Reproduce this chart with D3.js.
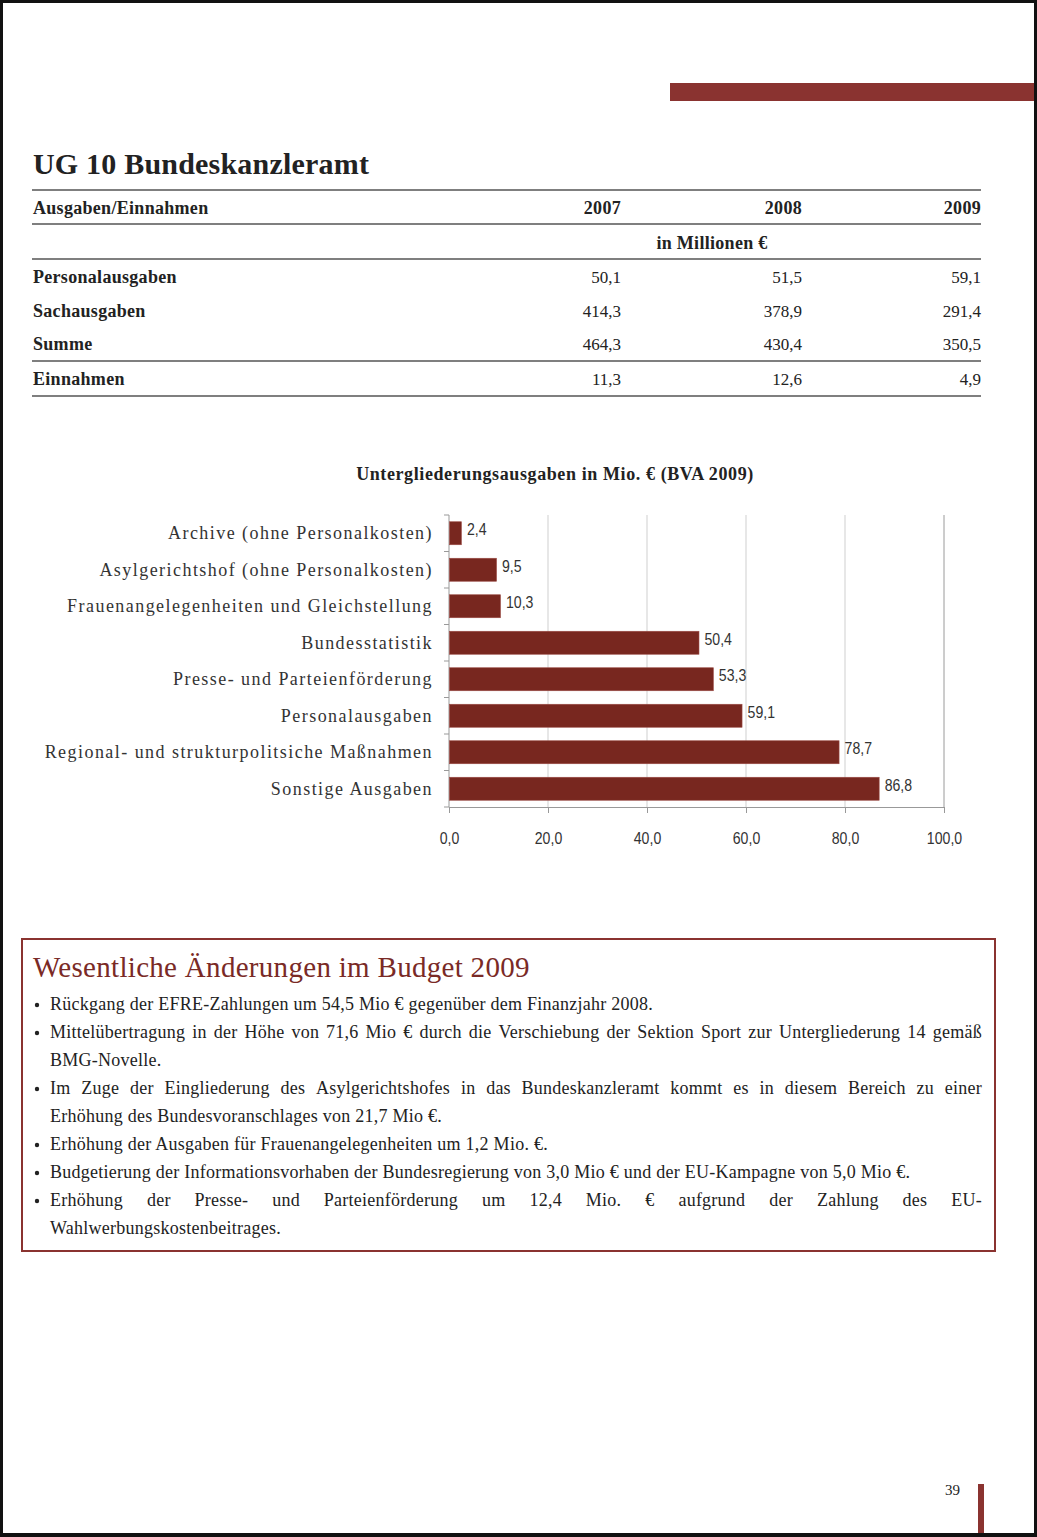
<!DOCTYPE html>
<html><head><meta charset="utf-8">
<script src="https://cdn.jsdelivr.net/npm/d3@7"></script>
<style>
body{margin:0;background:#000;}
svg{display:block;}
</style></head>
<body>
<svg id="page" width="1037" height="1537"></svg>
<script>
// ---------- data ----------
const pageTitle = "UG 10 Bundeskanzleramt";
const tableHeader = "Ausgaben/Einnahmen";
const years = ["2007", "2008", "2009"];
const unitLabel = "in Millionen €";
const tableRowLabels = ["Personalausgaben", "Sachausgaben", "Summe", "Einnahmen"];
const values2007 = ["50,1", "414,3", "464,3", "11,3"];
const values2008 = ["51,5", "378,9", "430,4", "12,6"];
const values2009 = ["59,1", "291,4", "350,5", "4,9"];

const chartTitle = "Untergliederungsausgaben in Mio. € (BVA 2009)";
const categories = [
  "Archive (ohne Personalkosten)",
  "Asylgerichtshof (ohne Personalkosten)",
  "Frauenangelegenheiten und Gleichstellung",
  "Bundesstatistik",
  "Presse- und Parteienförderung",
  "Personalausgaben",
  "Regional- und strukturpolitsiche Maßnahmen",
  "Sonstige Ausgaben"
];
const amounts = [2.4, 9.5, 10.3, 50.4, 53.3, 59.1, 78.7, 86.8];
const xTicks = [0, 20, 40, 60, 80, 100];

const boxTitle = "Wesentliche Änderungen im Budget 2009";
const bulletLines = [
  {bullet: true,  justify: false, text: "Rückgang der EFRE-Zahlungen um 54,5 Mio € gegenüber dem Finanzjahr 2008."},
  {bullet: true,  justify: true,  text: "Mittelübertragung in der Höhe von 71,6 Mio € durch die Verschiebung der Sektion Sport zur Untergliederung 14 gemäß"},
  {bullet: false, justify: false, text: "BMG-Novelle."},
  {bullet: true,  justify: true,  text: "Im Zuge der Eingliederung des Asylgerichtshofes in das Bundeskanzleramt kommt es in diesem Bereich zu einer"},
  {bullet: false, justify: false, text: "Erhöhung des Bundesvoranschlages von 21,7 Mio €."},
  {bullet: true,  justify: false, text: "Erhöhung der Ausgaben für Frauenangelegenheiten um 1,2 Mio. €."},
  {bullet: true,  justify: false, text: "Budgetierung der Informationsvorhaben der Bundesregierung von 3,0 Mio € und der EU-Kampagne von 5,0 Mio €."},
  {bullet: true,  justify: true,  text: "Erhöhung der Presse- und Parteienförderung um 12,4 Mio. € aufgrund der Zahlung des EU-"},
  {bullet: false, justify: false, text: "Wahlwerbungskostenbeitrages."}
];
const pageNumber = "39";

// ---------- styles ----------
const RED = "#8a3330";
const BAR = "#78271f";
const SERIF = "'Liberation Serif', 'DejaVu Serif', serif";
const NARROW = "'Liberation Sans', Arial, sans-serif";
const NARROW_SCALE = 0.83;
const INK = "#222";

const svg = d3.select("#page");

// page (scan frame)
svg.append("rect").attr("x", 0).attr("y", 0).attr("width", 1037).attr("height", 1537).attr("fill", "#111");
svg.append("rect").attr("x", 3).attr("y", 3).attr("width", 1031).attr("height", 1530).attr("fill", "#fff");

// header bar
svg.append("rect").attr("x", 670).attr("y", 83).attr("width", 364).attr("height", 18).attr("fill", RED);

// title
svg.append("text").attr("x", 33).attr("y", 174)
  .style("font-family", SERIF).style("font-weight", "bold").style("font-size", "30px")
  .style("letter-spacing", "0.2px").attr("fill", INK)
  .text(pageTitle);

// ---------- table ----------
const tbl = svg.append("g");
const ruleX0 = 32, ruleX1 = 981;
[190, 224, 259, 361, 396].forEach(y => {
  tbl.append("line").attr("x1", ruleX0).attr("x2", ruleX1).attr("y1", y).attr("y2", y)
    .attr("stroke", "#555").attr("stroke-width", 1.4);
});
const colRight = [621, 802, 981];
const tfont = (s) => s.style("font-family", SERIF).style("font-size", "17px").attr("fill", INK);
const bfont = (s) => s.style("font-family", SERIF).style("font-size", "18px").style("font-weight", "bold")
  .style("letter-spacing", "0.3px").attr("fill", INK);
bfont(tbl.append("text").attr("x", 33).attr("y", 214).text(tableHeader));
years.forEach((yr, i) => {
  bfont(tbl.append("text").attr("x", colRight[i]).attr("y", 214).attr("text-anchor", "end")
    .style("font-size", "16.5px").style("letter-spacing", "0px").text(yr));
});
bfont(tbl.append("text").attr("x", 712).attr("y", 249).attr("text-anchor", "middle").text(unitLabel));
const rowY = [283, 317, 350, 385];
const cols = [values2007, values2008, values2009];
tableRowLabels.forEach((lab, r) => {
  bfont(tbl.append("text").attr("x", 33).attr("y", rowY[r]).text(lab));
  cols.forEach((col, c) => {
    tfont(tbl.append("text").attr("x", colRight[c]).attr("y", rowY[r]).attr("text-anchor", "end").text(col[r]));
  });
});

// ---------- bar chart ----------
svg.append("text").attr("x", 555).attr("y", 480).attr("text-anchor", "middle")
  .style("font-family", SERIF).style("font-weight", "bold").style("font-size", "18px")
  .style("letter-spacing", "0.6px").attr("fill", INK)
  .text(chartTitle);

const x = d3.scaleLinear().domain([0, 100]).range([449, 944]);
const y = d3.scaleBand().domain(categories).range([515, 807]).paddingInner(0.37).paddingOuter(0.185);

const chart = svg.append("g");
// gridlines
chart.append("g").selectAll("line").data(xTicks.filter(t => t > 0)).join("line")
  .attr("x1", d => x(d)).attr("x2", d => x(d)).attr("y1", 515).attr("y2", 807)
  .attr("stroke", d => d === 100 ? "#9a9a9a" : "#cfcfcf").attr("stroke-width", 1);

// bottom axis
const fmt = d => d3.format(".1f")(d).replace(".", ",");
const xAxis = d3.axisBottom(x).tickValues(xTicks).tickSize(6).tickPadding(19).tickFormat(fmt);
const gx = chart.append("g").attr("transform", "translate(0,807)").call(xAxis);
gx.select(".domain").attr("stroke", "#999");
gx.selectAll(".tick line").attr("stroke", "#999");
gx.selectAll(".tick text").style("font-family", NARROW).style("font-size", "17px").attr("fill", "#333")
  .attr("transform", `scale(${NARROW_SCALE},1)`);

// left axis with ticks at band boundaries
chart.append("line").attr("x1", 449).attr("x2", 449).attr("y1", 515).attr("y2", 807).attr("stroke", "#999");
const step = y.step();
const boundaries = d3.range(categories.length + 1).map(i => 515 + i * step);
chart.append("g").selectAll("line").data(boundaries).join("line")
  .attr("x1", 444).attr("x2", 449).attr("y1", d => d).attr("y2", d => d).attr("stroke", "#999");

// bars
chart.append("g").selectAll("rect").data(amounts).join("rect")
  .attr("x", x(0) + 0.5).attr("y", (d, i) => y(categories[i]))
  .attr("width", d => x(d) - x(0)).attr("height", y.bandwidth())
  .attr("fill", BAR).attr("stroke", "#9a4a44").attr("stroke-width", 0.6);

// value labels
chart.append("g").selectAll("g").data(amounts).join("g")
  .attr("transform", (d, i) => `translate(${x(d) + 6},${y(categories[i]) + y.bandwidth() / 2 + 2}) scale(${NARROW_SCALE},1)`)
  .append("text")
  .style("font-family", NARROW).style("font-size", "17px").attr("fill", "#333")
  .text(d => fmt(d));

// category labels
chart.append("g").selectAll("text").data(categories).join("text")
  .attr("x", 433).attr("y", d => y(d) + y.bandwidth() / 2 + 6).attr("text-anchor", "end")
  .style("font-family", SERIF).style("font-size", "18px").style("letter-spacing", "1.45px").attr("fill", "#333")
  .text(d => d);

// ---------- box ----------
svg.append("rect").attr("x", 22).attr("y", 939).attr("width", 973).attr("height", 312)
  .attr("fill", "none").attr("stroke", RED).attr("stroke-width", 2);
svg.append("text").attr("x", 33).attr("y", 977)
  .style("font-family", SERIF).style("font-size", "29px").style("letter-spacing", "0.3px")
  .attr("fill", "#7a2a26").text(boxTitle);

const textX = 50, textRight = 982, lineY0 = 1010, lineH = 28;
const bodyStyle = s => s.style("font-family", SERIF).style("font-size", "18px")
  .style("letter-spacing", "0.25px").attr("fill", INK);
bulletLines.forEach((ln, i) => {
  const yy = lineY0 + i * lineH;
  if (ln.bullet) {
    svg.append("circle").attr("cx", 37).attr("cy", yy - 5).attr("r", 2.2).attr("fill", INK);
  }
  if (!ln.justify) {
    bodyStyle(svg.append("text").attr("x", textX).attr("y", yy).text(ln.text));
  } else {
    const words = ln.text.split(" ");
    const nodes = words.map(w => bodyStyle(svg.append("text").attr("y", yy).text(w)));
    const widths = nodes.map(n => n.node().getComputedTextLength());
    const total = d3.sum(widths);
    const gap = (textRight - textX - total) / (words.length - 1);
    let cx = textX;
    nodes.forEach((n, k) => { n.attr("x", cx); cx += widths[k] + gap; });
  }
});

// ---------- page number ----------
svg.append("text").attr("x", 960).attr("y", 1495).attr("text-anchor", "end")
  .style("font-family", SERIF).style("font-size", "15px").attr("fill", INK).text(pageNumber);
svg.append("rect").attr("x", 978).attr("y", 1484).attr("width", 6).attr("height", 49).attr("fill", RED);
</script>
</body></html>
